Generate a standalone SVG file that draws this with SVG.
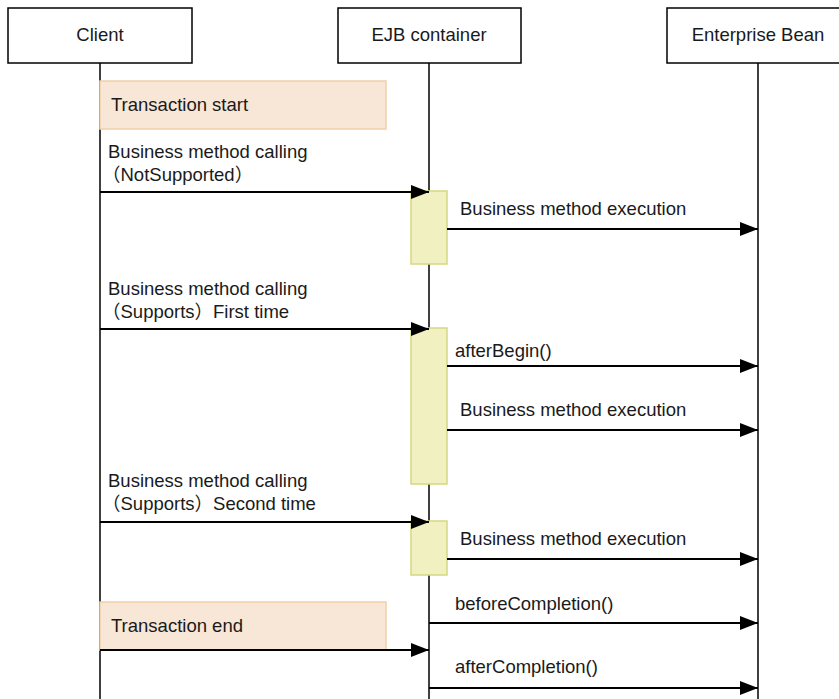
<svg xmlns="http://www.w3.org/2000/svg" width="839" height="699" viewBox="0 0 839 699">
  <defs>
    <marker id="arrow" viewBox="0 0 18 14" refX="18" refY="7" markerWidth="18" markerHeight="14" markerUnits="userSpaceOnUse" orient="auto">
      <path d="M0,0 L18,7 L0,14 Z" fill="#000"/>
    </marker>
  </defs>
  <style>
    text { font-family: "Liberation Sans", "Noto Sans CJK JP", Arial, sans-serif; font-size: 18.5px; fill: #1a1a1a; }
    .head { fill: #fff; stroke: #000; stroke-width: 1.5; }
    .life { stroke: #000; stroke-width: 1.5; fill: none; }
    .msg { stroke: #000; stroke-width: 2; fill: none; marker-end: url(#arrow); }
    .act { fill: #f0f0c0; stroke: #d8d880; stroke-width: 1.5; }
    .note { fill: #f8e6d6; stroke: #f0cfa8; stroke-width: 1.5; }
  </style>

  <rect width="839" height="699" fill="#fff"/>

  <!-- lifelines -->
  <g id="lifelines">
    <line class="life" x1="100" y1="63" x2="100" y2="699"/>
    <line class="life" x1="429" y1="63" x2="429" y2="699"/>
    <line class="life" x1="758" y1="63" x2="758" y2="699"/>
  </g>

  <!-- participants -->
  <g id="client">
    <rect class="head" x="8" y="8" width="184" height="55"/>
    <text x="100" y="41" text-anchor="middle">Client</text>
  </g>
  <g id="ejb-container">
    <rect class="head" x="338" y="8" width="183" height="55"/>
    <text x="429" y="41" text-anchor="middle">EJB container</text>
  </g>
  <g id="enterprise-bean">
    <rect class="head" x="667" y="8" width="180" height="55"/>
    <text x="758" y="41" text-anchor="middle">Enterprise Bean</text>
  </g>

  <!-- transaction notes -->
  <g id="tx-start">
    <rect class="note" x="100" y="81" width="286" height="48"/>
    <text x="111" y="111">Transaction start</text>
  </g>
  <g id="tx-end">
    <rect class="note" x="100" y="602" width="286" height="48"/>
    <text x="111" y="632">Transaction end</text>
  </g>

  <!-- activation bars on the EJB container -->
  <g id="activation-1"><rect class="act" x="411" y="191" width="36" height="73"/></g>
  <g id="activation-2"><rect class="act" x="411" y="328" width="36" height="156"/></g>
  <g id="activation-3"><rect class="act" x="411" y="521" width="36" height="54"/></g>

  <!-- messages -->
  <g id="connectors">
    <line class="msg" x1="100" y1="192" x2="429" y2="192"/>
    <line class="msg" x1="447" y1="229" x2="758" y2="229"/>
    <line class="msg" x1="100" y1="329" x2="429" y2="329"/>
    <line class="msg" x1="447" y1="366" x2="758" y2="366"/>
    <line class="msg" x1="447" y1="430" x2="758" y2="430"/>
    <line class="msg" x1="100" y1="522" x2="429" y2="522"/>
    <line class="msg" x1="447" y1="559" x2="758" y2="559"/>
    <line class="msg" x1="429" y1="623" x2="758" y2="623"/>
    <line class="msg" x1="100" y1="650" x2="429" y2="650"/>
    <line class="msg" x1="429" y1="688" x2="758" y2="688"/>
  </g>

  <!-- message labels -->
  <g id="labels">
    <text x="108" y="158">Business method calling</text>
    <text x="102" y="181">（NotSupported）</text>
    <text x="460" y="215">Business method execution</text>
    <text x="108" y="295">Business method calling</text>
    <text x="102" y="318">（Supports）First time</text>
    <text x="455" y="357">afterBegin()</text>
    <text x="460" y="416">Business method execution</text>
    <text x="108" y="487">Business method calling</text>
    <text x="102" y="510">（Supports）Second time</text>
    <text x="460" y="545">Business method execution</text>
    <text x="455" y="610">beforeCompletion()</text>
    <text x="455" y="673">afterCompletion()</text>
  </g>
</svg>
